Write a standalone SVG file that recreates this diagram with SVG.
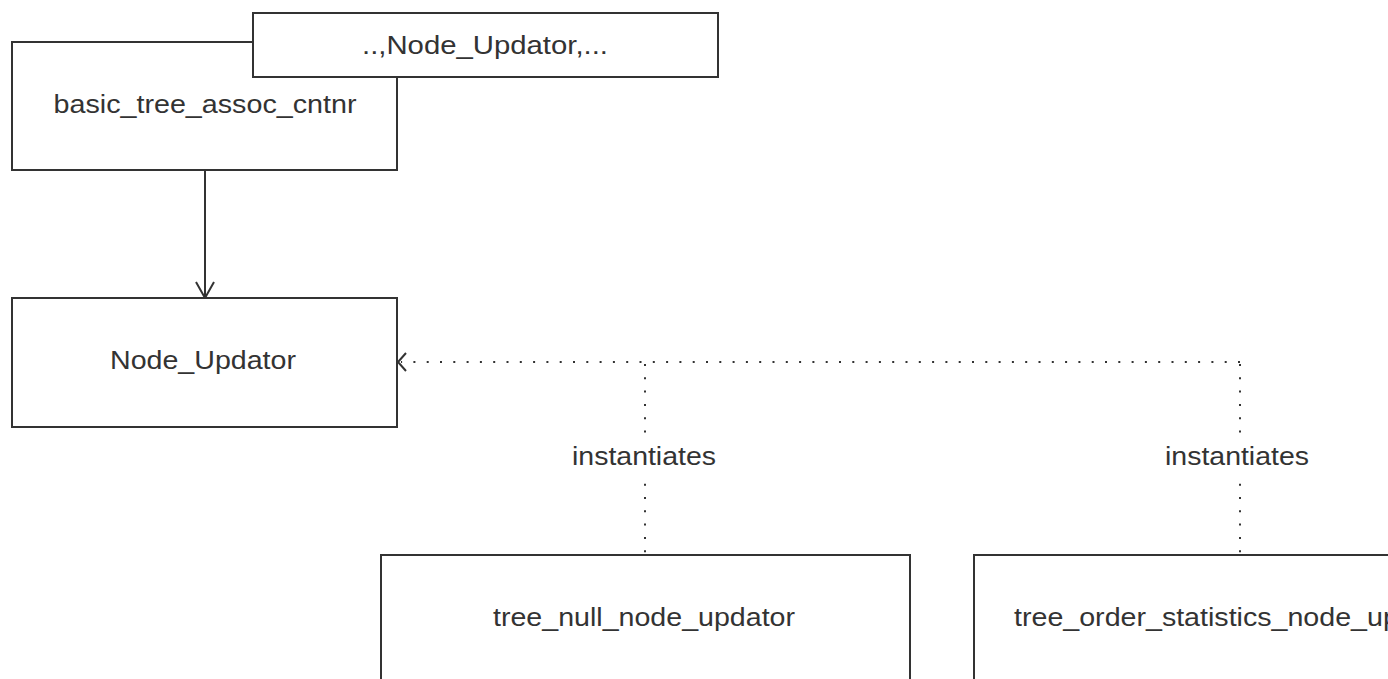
<svg xmlns="http://www.w3.org/2000/svg" width="1388" height="679" viewBox="0 0 1388 679">
<style>
.box{fill:#fff;stroke:#333;stroke-width:2}
.lbl{font-family:"Liberation Sans",Arial,sans-serif;font-size:25px;fill:#333;text-anchor:middle}
.dot{fill:none;stroke:#333;stroke-width:2;stroke-dasharray:2 11.3}
.solid{fill:none;stroke:#333;stroke-width:2}
</style>
<rect width="1388" height="679" fill="#fff"/>
<g id="connectors">
<line class="solid" x1="205" y1="170" x2="205" y2="297"/>
<polyline class="solid" points="196,282 205,298 214,282"/>
<line class="dot" x1="1240" y1="362" x2="401" y2="362"/>
<polyline class="solid" points="406,353 398,362 406,371"/>
<line class="dot" x1="645" y1="364" x2="645" y2="555"/>
<line class="dot" x1="1240" y1="364" x2="1240" y2="555"/>
<rect x="566" y="440" width="156" height="34" fill="#fff"/>
<rect x="1160" y="440" width="156" height="34" fill="#fff"/>
<text class="lbl" x="644" y="465" textLength="144" lengthAdjust="spacingAndGlyphs">instantiates</text>
<text class="lbl" x="1237" y="465" textLength="144" lengthAdjust="spacingAndGlyphs">instantiates</text>
</g>
<g id="basic_tree_assoc_cntnr">
<rect class="box" x="12" y="42" width="385" height="128"/>
<text class="lbl" x="205" y="113" textLength="303" lengthAdjust="spacingAndGlyphs">basic_tree_assoc_cntnr</text>
</g>
<g id="template_param">
<rect class="box" x="253" y="13" width="465" height="64"/>
<text class="lbl" x="485" y="54" textLength="246" lengthAdjust="spacingAndGlyphs">..,Node_Updator,...</text>
</g>
<g id="Node_Updator">
<rect class="box" x="12" y="298" width="385" height="129"/>
<text class="lbl" x="203" y="369" textLength="186" lengthAdjust="spacingAndGlyphs">Node_Updator</text>
</g>
<g id="tree_null_node_updator">
<rect class="box" x="381" y="555" width="529" height="140"/>
<text class="lbl" x="644" y="626" textLength="302" lengthAdjust="spacingAndGlyphs">tree_null_node_updator</text>
</g>
<g id="tree_order_statistics_node_updator">
<rect class="box" x="974" y="555" width="529" height="140"/>
<text class="lbl" x="1239" y="626" textLength="450" lengthAdjust="spacingAndGlyphs">tree_order_statistics_node_updator</text>
</g>
</svg>
